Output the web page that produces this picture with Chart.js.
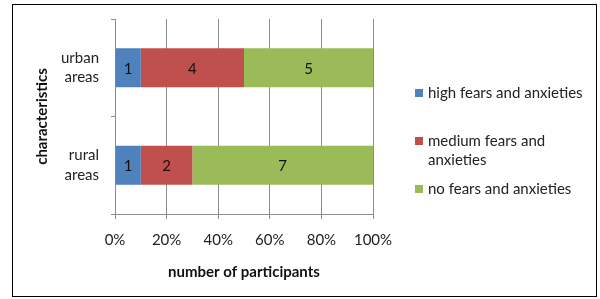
<!DOCTYPE html>
<html>
<head>
<meta charset="utf-8">
<script src="https://cdn.jsdelivr.net/npm/chart.js@4/dist/chart.umd.min.js"></script>
<style>
  html, body { margin: 0; padding: 0; background: #fff; }
  #wrap { position: relative; width: 600px; height: 299px; overflow: hidden; }
  #frame { position: absolute; left: 12px; top: 4px; width: 585px; height: 293px; border: 1px solid #000; box-sizing: border-box; }
  #chart { position: absolute; left: 0; top: 0; }
  .legend-item { position: absolute; left: 415px; font: 15px Lato, sans-serif; color: #222; line-height: 19px; }
  .legend-item .sw { position: absolute; left: 0; top: 6px; width: 8px; height: 8px; }
  .legend-item .tx { position: absolute; left: 13px; top: 0; width: 162px; }
</style>
</head>
<body>
<div id="wrap">
  <div id="frame"></div>
  <canvas id="chart" width="600" height="299"></canvas>
  <div id="legend"></div>
</div>
<script>
// participants per group
var categories = ['urban areas', 'rural areas'];
var seriesNames = ['high fears and anxieties', 'medium fears and anxieties', 'no fears and anxieties'];
var highFears = [1, 1];
var mediumFears = [4, 2];
var noFears = [5, 7];
var seriesColors = ['#4F81BD', '#C0504D', '#9BBB59'];
var xTicks = [0, 20, 40, 60, 80, 100];

var counts = [highFears, mediumFears, noFears];
var totals = categories.map(function(c, i) {
  return highFears[i] + mediumFears[i] + noFears[i];
});

var FONT = 'Lato, sans-serif';
var GRID = '#8c8c8c';

// writes the count in the middle of every segment
var segmentLabels = {
  id: 'segmentLabels',
  afterDatasetsDraw: function(chart) {
    var ctx = chart.ctx;
    ctx.save();
    ctx.font = '15px ' + FONT;
    ctx.fillStyle = '#111';
    ctx.textAlign = 'center';
    ctx.textBaseline = 'middle';
    chart.data.datasets.forEach(function(ds, di) {
      chart.getDatasetMeta(di).data.forEach(function(bar, i) {
        var p = bar.getProps(['x', 'y', 'base'], true);
        ctx.fillText(String(counts[di][i]), (p.x + p.base) / 2, p.y + 1);
      });
    });
    ctx.restore();
  }
};

new Chart(document.getElementById('chart'), {
  type: 'bar',
  data: {
    labels: categories.map(function(c) { return c.split(' '); }),
    datasets: seriesNames.map(function(name, di) {
      return {
        label: name,
        data: counts[di].map(function(v, i) { return v / totals[i] * 100; }),
        backgroundColor: seriesColors[di],
        borderWidth: 0,
        barPercentage: 0.4,
        categoryPercentage: 1
      };
    })
  },
  options: {
    indexAxis: 'y',
    responsive: false,
    animation: false,
    layout: { padding: { left: 0, right: 227, top: 19, bottom: 0 } },
    plugins: { legend: { display: false }, tooltip: { enabled: false } },
    scales: {
      x: {
        stacked: true,
        min: 0,
        max: 100,
        afterFit: function(scale) {
          scale.height = 85;
          scale.paddingLeft = 0;
          scale.paddingRight = 0;
        },
        afterBuildTicks: function(scale) {
          scale.ticks = xTicks.map(function(v) { return { value: v }; });
        },
        ticks: {
          padding: 12,
          color: '#222',
          font: { family: FONT, size: 15 },
          callback: function(v) { return v + '%'; }
        },
        grid: { color: GRID, tickLength: 5 },
        border: { color: GRID },
        title: {
          display: true,
          text: 'number of participants',
          color: '#111',
          font: { family: FONT, size: 15, weight: 'bold' },
          padding: { top: 0, bottom: 18 }
        }
      },
      y: {
        stacked: true,
        afterFit: function(scale) {
          scale.width = 115;
          scale.paddingTop = 0;
          scale.paddingBottom = 0;
        },
        ticks: {
          padding: 12,
          color: '#222',
          font: { family: FONT, size: 15, lineHeight: 1.3 }
        },
        grid: { color: GRID, drawOnChartArea: false, tickLength: 4, offset: true },
        border: { color: GRID },
        title: {
          display: true,
          text: 'characteristics',
          color: '#111',
          font: { family: FONT, size: 15, weight: 'bold' },
          padding: { top: 33, bottom: 0 }
        }
      }
    }
  },
  plugins: [segmentLabels]
});

// legend on the right
var legendTops = [83, 131, 179];
var legend = document.getElementById('legend');
seriesNames.forEach(function(name, i) {
  var item = document.createElement('div');
  item.className = 'legend-item';
  item.style.top = legendTops[i] + 'px';
  item.innerHTML = '<span class="sw" style="background:' + seriesColors[i] + '"></span><span class="tx">' + name + '</span>';
  legend.appendChild(item);
});
</script>
</body>
</html>
